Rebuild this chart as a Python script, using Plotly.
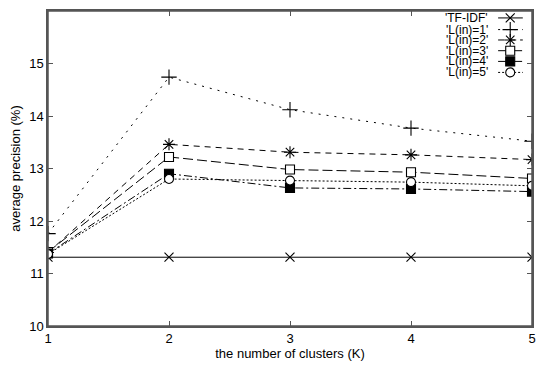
import plotly.graph_objects as go

clusters = [1, 2, 3, 4, 5]
tfidf = [11.31, 11.31, 11.31, 11.31, 11.31]
l_in_1 = [11.76, 14.74, 14.12, 13.77, 13.52]
l_in_2 = [11.40, 13.46, 13.31, 13.26, 13.17]
l_in_3 = [11.41, 13.22, 12.98, 12.93, 12.81]
l_in_4 = [11.38, 12.90, 12.63, 12.61, 12.56]
l_in_5 = [11.37, 12.80, 12.77, 12.74, 12.67]

names = ["'TF-IDF'", "'L(in)=1'", "'L(in)=2'", "'L(in)=3'", "'L(in)=4'", "'L(in)=5'"]
series = [tfidf, l_in_1, l_in_2, l_in_3, l_in_4, l_in_5]
dashes = ["solid", "2px,6px", "6px,5px", "10px,4px", "8px,3px,2px,3px", "2px,2px"]
symbols = ["x-thin", "cross-thin", "asterisk", "square", "square", "circle"]
fills = ["black", "black", "black", "white", "black", "white"]
sizes = [9, 11, 10, 9, 9, 9]

X_RANGE = [1, 5]
Y_RANGE = [10, 16]
FONT = "Liberation Sans, Arial"


def fx(frac):
    return X_RANGE[0] + (X_RANGE[1] - X_RANGE[0]) * frac


def fy(frac):
    return Y_RANGE[0] + (Y_RANGE[1] - Y_RANGE[0]) * frac


fig = go.Figure()
for nm, ys, d, s, f, sz in zip(names, series, dashes, symbols, fills, sizes):
    fig.add_trace(go.Scatter(
        x=clusters, y=ys, mode="lines+markers", name=nm, showlegend=False,
        line=dict(color="black", width=1, dash=d),
        marker=dict(symbol=s, size=sz, color=f, line=dict(color="black", width=1.1)),
    ))

# legend samples (gnuplot style: text then sample on the right)
rows = [0.978, 0.941, 0.908, 0.874, 0.840, 0.805]
for nm, d, s, f, sz, ry in zip(names, dashes, symbols, fills, sizes, rows):
    fig.add_trace(go.Scatter(
        x=[fx(0.93), fx(0.955), fx(0.981)], y=[fy(ry)] * 3,
        mode="lines", showlegend=False, hoverinfo="skip",
        line=dict(color="black", width=1, dash=d),
    ))
    fig.add_trace(go.Scatter(
        x=[fx(0.955)], y=[fy(ry)],
        mode="markers", showlegend=False, hoverinfo="skip",
        marker=dict(symbol=s, size=sz, color=f, line=dict(color="black", width=1.1)),
    ))
    fig.add_annotation(x=fx(0.914), y=fy(ry), text=nm, showarrow=False,
                       xanchor="right", yanchor="middle",
                       font=dict(family=FONT, size=12, color="black"))

axis_common = dict(showgrid=False, zeroline=False, showline=True, linecolor="#555",
                   linewidth=1.5, mirror="ticks", ticks="inside", ticklen=5,
                   tickcolor="#555", automargin=False,
                   tickfont=dict(family=FONT, size=13, color="black"))

# plot frame
fig.add_shape(type="rect", xref="paper", yref="paper", x0=0, x1=1, y0=0, y1=1,
              line=dict(color="#555", width=1.5), layer="above")

fig.update_layout(
    width=538, height=358,
    margin=dict(l=40, r=14, t=3, b=40, autoexpand=False),
    paper_bgcolor="white", plot_bgcolor="white",
    xaxis=dict(range=X_RANGE, tickvals=clusters, ticktext=[str(c) for c in clusters],
               title=dict(text="the number of clusters (K)", standoff=2,
                          font=dict(family=FONT, size=13, color="black")),
               **axis_common),
    yaxis=dict(range=Y_RANGE, dtick=1,
               title=dict(text="average precision (%)", standoff=6,
                          font=dict(family=FONT, size=13, color="black")),
               **axis_common),
)

fig.write_html("out.html")
